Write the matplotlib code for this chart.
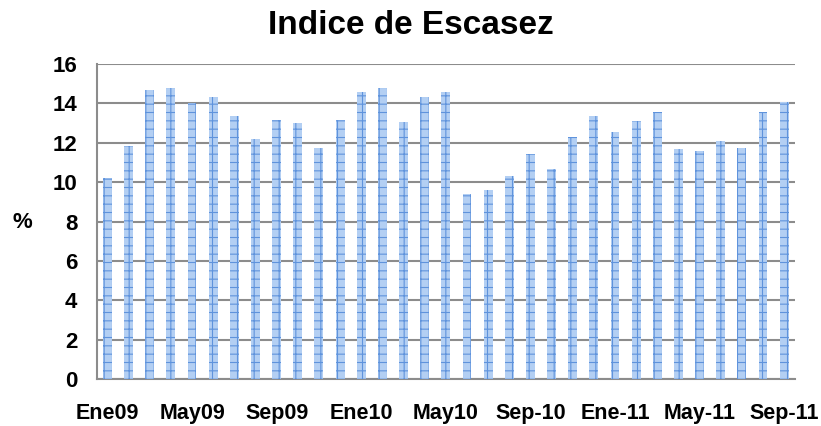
import numpy as np
import matplotlib
matplotlib.use("Agg")
import matplotlib.pyplot as plt

plt.rcParams['font.family'] = ['Liberation Sans', 'DejaVu Sans']
plt.rcParams['hatch.color'] = '#5f93dc'
plt.rcParams['hatch.linewidth'] = 0.8

# Ene09 .. Sep-11, mensual
valores = [10.2, 11.85, 14.65, 14.8, 14.0, 14.3, 13.35, 12.2, 13.15, 13.0, 11.75,
           13.15, 14.55, 14.8, 13.05, 14.3, 14.55, 9.4, 9.6, 10.3, 11.45, 10.65,
           12.3, 13.35, 12.55, 13.1, 13.55, 11.7, 11.6, 12.1, 11.75, 13.55, 14.05]
etiquetas = ['Ene09', 'May09', 'Sep09', 'Ene10', 'May10', 'Sep-10', 'Ene-11', 'May-11', 'Sep-11']
yticks = [0, 2, 4, 6, 8, 10, 12, 14, 16]

x = np.arange(len(valores))

fig = plt.figure(figsize=(8.21, 4.26), dpi=100)
ax = fig.add_axes([0.118, 0.110, 0.850, 0.740])

ax.bar(x, valores, width=0.42, color='#b3cff3', edgecolor='#5f93dc', linewidth=0, hatch='++', zorder=3)

ax.set_xlim(-0.5, len(valores) - 0.5)
ax.set_ylim(0, 16)
ax.set_yticks(yticks)
ax.set_yticklabels([str(v) for v in yticks], fontsize=16, fontweight='bold')
ax.set_xticks(x[::4])
ax.set_xticklabels(etiquetas, fontsize=15.5, fontweight='bold')
ax.tick_params(axis='x', length=0, pad=17)
ax.tick_params(axis='y', length=0, pad=14)

ax.grid(axis='y', color='#8c8c8c', linewidth=1.5, zorder=0)
for s in ['top', 'right']:
    ax.spines[s].set_visible(False)
for s in ['left', 'bottom']:
    ax.spines[s].set_color('#8c8c8c')
    ax.spines[s].set_linewidth(1.5)

fig.text(22 / 821, 1 - 223 / 426, '%', fontsize=16, fontweight='bold', ha='center', va='center')
fig.text(0.5, 1 - 26 / 426, 'Indice de Escasez', fontsize=24, fontweight='bold', ha='center', va='center')

fig.savefig('out.png', dpi=100)
